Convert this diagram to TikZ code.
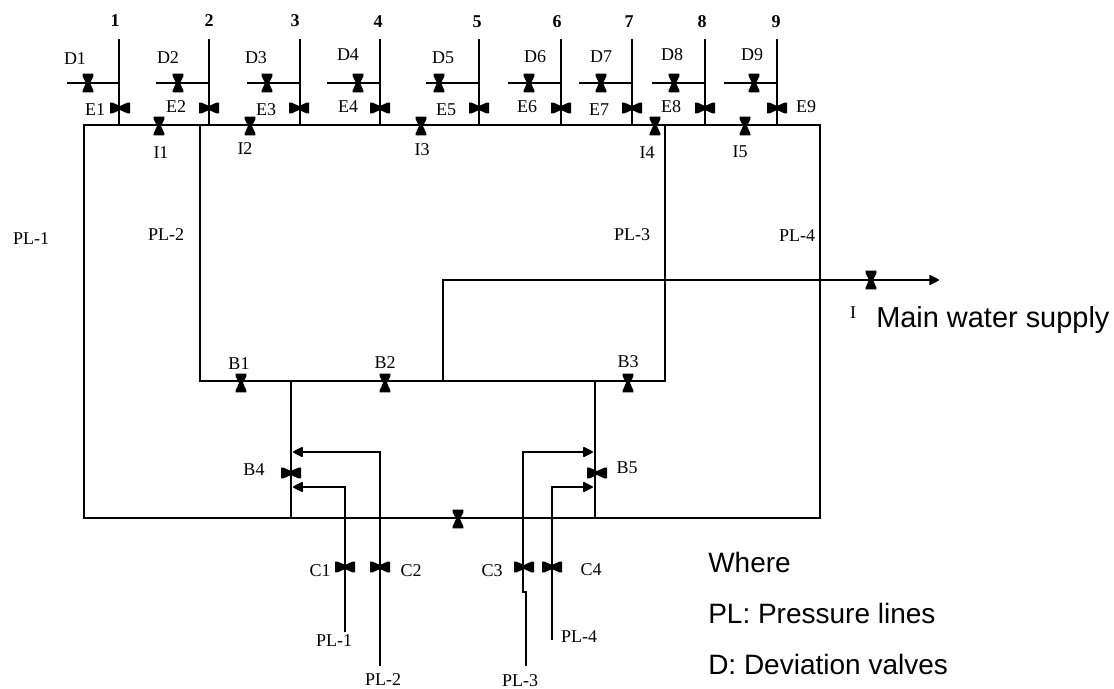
\documentclass[tikz,border=0pt]{standalone}
\usepackage{fontspec}
\setmainfont{Liberation Serif}
\newfontfamily\notefont{Liberation Sans}
\usetikzlibrary{arrows.meta}
\tikzset{
  pipe/.style={line width=1.1pt,black},
  flow/.style={pipe,-{Triangle[length=8pt,width=8pt,round]},shorten >=1.5pt},
  lbl/.style={font=\fontsize{13.5}{14}\selectfont,inner sep=0pt},
  num/.style={font=\fontsize{13.5}{14}\selectfont\bfseries,inner sep=0pt},
  note/.style={font=\fontsize{21}{24}\selectfont\notefont,inner sep=0pt,anchor=west},
  vvalve/.style={inner sep=0pt,minimum width=8pt,minimum height=14pt,path picture={
    \fill[black,shift={(path picture bounding box.center)}] (-4pt,-7pt) -- (4pt,-7pt) -- (4pt,-5.5pt) -- (1.5pt,0pt) -- (4pt,5pt) -- (4pt,7pt) -- (-4pt,7pt) -- (-4pt,5pt) -- (-1.5pt,0pt) -- (-4pt,-5.5pt) -- cycle;}},
  hvalve/.style={inner sep=0pt,minimum width=15pt,minimum height=8pt,path picture={
    \fill[black,shift={(path picture bounding box.center)}] (-7.5pt,-4pt) -- (-7.5pt,4pt) -- (-5.5pt,4pt) -- (0pt,1.5pt) -- (5.5pt,4pt) -- (7.5pt,4pt) -- (7.5pt,-4pt) -- (5.5pt,-4pt) -- (0pt,-1.5pt) -- (-5.5pt,-4pt) -- cycle;}}
}
\begin{document}
\begin{tikzpicture}[x=0.75pt,y=-0.75pt]
    \useasboundingbox (0,0) rectangle (1114,689);
    % frame and headers
    \coordinate (nw) at (84,125); \coordinate (ne) at (820,125); \coordinate (sw) at (84,518); \coordinate (se) at (820,518);
    \coordinate (cw) at (200,381); \coordinate (ce) at (665,381);
    \coordinate (top1) at (119,39); \coordinate (top2) at (209,39); \coordinate (top3) at (300,39);
    \coordinate (top4) at (380,39); \coordinate (top5) at (479,39); \coordinate (top6) at (561,39);
    \coordinate (top7) at (632,39); \coordinate (top8) at (705,39); \coordinate (top9) at (777,39);
    \coordinate (dev1) at (67,83); \coordinate (dev2) at (156,83); \coordinate (dev3) at (247,83);
    \coordinate (dev4) at (327,83); \coordinate (dev5) at (426,83); \coordinate (dev6) at (508,83);
    \coordinate (dev7) at (579,83); \coordinate (dev8) at (652,83); \coordinate (dev9) at (724,83);
    \coordinate (leftb) at (291,381); \coordinate (rightb) at (595,381); \coordinate (mainb) at (443,381);
    \coordinate (mainc) at (443,280); \coordinate (mainend) at (941,280);
    \coordinate (in1) at (345,632); \coordinate (in2) at (380,666); \coordinate (in3) at (526,666); \coordinate (in4) at (552,640);
    \coordinate (up1) at (345,487); \coordinate (up2) at (380,452); \coordinate (up3) at (523,452); \coordinate (up4) at (552,487);
    \coordinate (jog1) at (523,592); \coordinate (jog2) at (526,592);
    \draw[pipe] (nw) -- (ne) -- (se) -- (sw) -- cycle;
    \draw[pipe] (cw |- nw) -- (cw) -- (ce) -- (ce |- nw);
    \draw[pipe] (leftb) -- (leftb |- sw);
    \draw[pipe] (rightb) -- (rightb |- sw);
    % branches
    \draw[pipe] (top1) -- (top1 |- nw); \draw[pipe] (dev1) -- (dev1 -| top1);
    \draw[pipe] (top2) -- (top2 |- nw); \draw[pipe] (dev2) -- (dev2 -| top2);
    \draw[pipe] (top3) -- (top3 |- nw); \draw[pipe] (dev3) -- (dev3 -| top3);
    \draw[pipe] (top4) -- (top4 |- nw); \draw[pipe] (dev4) -- (dev4 -| top4);
    \draw[pipe] (top5) -- (top5 |- nw); \draw[pipe] (dev5) -- (dev5 -| top5);
    \draw[pipe] (top6) -- (top6 |- nw); \draw[pipe] (dev6) -- (dev6 -| top6);
    \draw[pipe] (top7) -- (top7 |- nw); \draw[pipe] (dev7) -- (dev7 -| top7);
    \draw[pipe] (top8) -- (top8 |- nw); \draw[pipe] (dev8) -- (dev8 -| top8);
    \draw[pipe] (top9) -- (top9 |- nw); \draw[pipe] (dev9) -- (dev9 -| top9);
    % supply and inlets
    \draw[flow] (mainb) -- (mainc) -- (mainend);
    \draw[flow] (in1) -- (up1) -- (up1 -| leftb);
    \draw[flow] (in2) -- (up2) -- (up2 -| leftb);
    \draw[flow] (in3) -- (jog2) -- (jog1) -- (up3) -- (up3 -| rightb);
    \draw[flow] (in4) -- (up4) -- (up4 -| rightb);
    % valves
    \node[vvalve] (d1) at (88,83) {}; \node[vvalve] (d2) at (178,83) {}; \node[vvalve] (d3) at (267,83) {};
    \node[vvalve] (d4) at (358,83) {}; \node[vvalve] (d5) at (439,83) {}; \node[vvalve] (d6) at (529,83) {};
    \node[vvalve] (d7) at (601,83) {}; \node[vvalve] (d8) at (674,83) {}; \node[vvalve] (d9) at (754,83) {};
    \node[hvalve] (e1) at (120,108) {}; \node[hvalve] (e2) at (209,108) {}; \node[hvalve] (e3) at (299,108) {};
    \node[hvalve] (e4) at (380,108) {}; \node[hvalve] (e5) at (479,108) {}; \node[hvalve] (e6) at (561,108) {};
    \node[hvalve] (e7) at (632,108) {}; \node[hvalve] (e8) at (705,108) {}; \node[hvalve] (e9) at (777,108) {};
    \node[vvalve] (i1) at (159,126) {}; \node[vvalve] (i2) at (250,126) {}; \node[vvalve] (i3) at (421,126) {};
    \node[vvalve] (i4) at (655,126) {}; \node[vvalve] (i5) at (745,126) {};
    \node[vvalve] (b1) at (241,383) {}; \node[vvalve] (b2) at (385,383) {}; \node[vvalve] (b3) at (628,383) {};
    \node[hvalve] (b4) at (291,473) {}; \node[hvalve] (b5) at (597,473) {};
    \node[vvalve] (s1) at (458,519) {};
    \node[vvalve] (s2) at (871,280) {};
    \node[hvalve] (c1) at (345,567) {}; \node[hvalve] (c2) at (380,567) {};
    \node[hvalve] (c3) at (524,567) {}; \node[hvalve] (c4) at (552,567) {};
    % labels
    \node[num] (n1) at (115,21) {1}; \node[num] (n2) at (209,21) {2}; \node[num] (n3) at (295,21) {3};
    \node[num] (n4) at (378,22) {4}; \node[num] (n5) at (477,22) {5}; \node[num] (n6) at (557,22) {6};
    \node[num] (n7) at (629,22) {7}; \node[num] (n8) at (702,22) {8}; \node[num] (n9) at (776,22) {9};
    \node[lbl] (ld1) at (75,59) {D1}; \node[lbl] (ld2) at (168,58) {D2}; \node[lbl] (ld3) at (256,58) {D3};
    \node[lbl] (ld4) at (348,55) {D4}; \node[lbl] (ld5) at (443,58) {D5}; \node[lbl] (ld6) at (535,57) {D6};
    \node[lbl] (ld7) at (601,57) {D7}; \node[lbl] (ld8) at (672,55) {D8}; \node[lbl] (ld9) at (752,55) {D9};
    \node[lbl] (le1) at (95,110) {E1}; \node[lbl] (le2) at (176,107) {E2}; \node[lbl] (le3) at (266,110) {E3};
    \node[lbl] (le4) at (348,107) {E4}; \node[lbl] (le5) at (446,110) {E5}; \node[lbl] (le6) at (527,107) {E6};
    \node[lbl] (le7) at (599,110) {E7}; \node[lbl] (le8) at (671,107) {E8}; \node[lbl] (le9) at (806,107) {E9};
    \node[lbl] (li1) at (161,153) {I1}; \node[lbl] (li2) at (245,149) {I2}; \node[lbl] (li3) at (422,150) {I3};
    \node[lbl] (li4) at (647,153) {I4}; \node[lbl] (li5) at (740,152) {I5};
    \node[lbl] (pl1) at (31,239) {PL-1}; \node[lbl] (pl2) at (166,235) {PL-2};
    \node[lbl] (pl3) at (632,235) {PL-3}; \node[lbl] (pl4) at (797,236) {PL-4};
    \node[lbl] (lb1) at (239,364) {B1}; \node[lbl] (lb2) at (385,363) {B2}; \node[lbl] (lb3) at (628,362) {B3};
    \node[lbl] (lb4) at (254,470) {B4}; \node[lbl] (lb5) at (627,468) {B5};
    \node[lbl] (lc1) at (320,571) {C1}; \node[lbl] (lc2) at (411,571) {C2};
    \node[lbl] (lc3) at (492,571) {C3}; \node[lbl] (lc4) at (591,570) {C4};
    \node[lbl] (in1l) at (334,641) {PL-1}; \node[lbl] (in2l) at (383,680) {PL-2};
    \node[lbl] (in3l) at (520,681) {PL-3}; \node[lbl] (in4l) at (579,637) {PL-4};
    \node[lbl] (stub) at (853,313) {I};
    \node[note,font=\fontsize{21.7}{24}\selectfont\notefont] (supply) at (876,320) {Main water supply};
    \node[note] (where) at (708,562) {Where};
    \node[note] (plnote) at (708,613) {PL: Pressure lines};
    \node[note] (dnote) at (708,664) {D: Deviation valves};
  \end{tikzpicture}
\end{document}
